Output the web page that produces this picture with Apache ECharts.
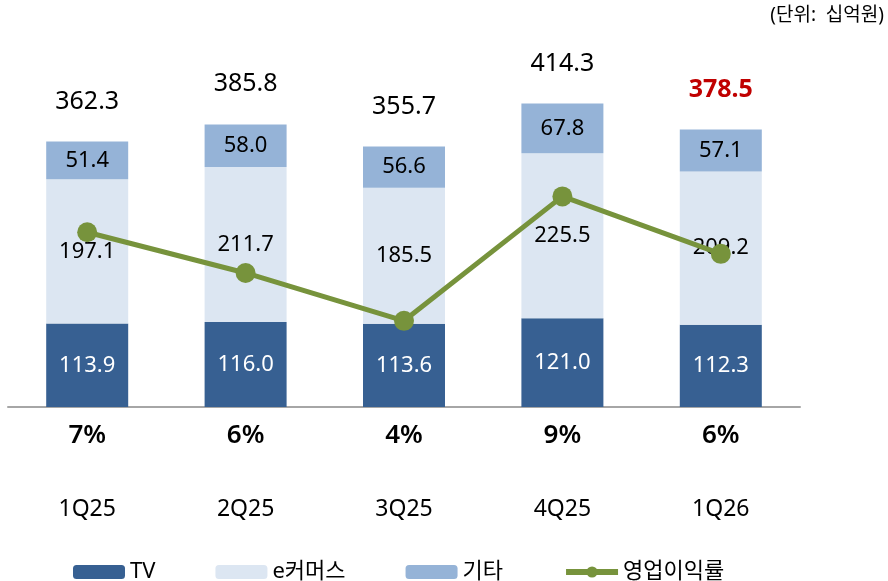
<!DOCTYPE html>
<html>
<head>
<meta charset="utf-8">
<script src="https://cdn.jsdelivr.net/npm/echarts@6/dist/echarts.min.js"></script>
<style>
  html, body { margin: 0; padding: 0; background: #fff; }
  #chart { width: 888px; height: 581px; }
</style>
</head>
<body>
<div id="chart"></div>
<script>
// 분기별 매출 구성 (단위: 십억원)
const categories = ['1Q25', '2Q25', '3Q25', '4Q25', '1Q26'];
const tvValues = [113.9, 116.0, 113.6, 121.0, 112.3];
const commerceValues = [197.1, 211.7, 185.5, 225.5, 209.2];
const etcValues = [51.4, 58.0, 56.6, 67.8, 57.1];
const totalValues = [362.3, 385.8, 355.7, 414.3, 378.5];
// 영업이익률 (%)
const marginValues = [7.3, 5.6, 3.6, 8.8, 6.4];
const marginLabels = ['7%', '6%', '4%', '9%', '6%'];

const FONT = "'Noto Sans', 'Noto Sans CJK KR', sans-serif";

const chart = echarts.init(document.getElementById('chart'));

// 바 안쪽 라벨
function innerLabel(color) {
  return {
    show: true,
    position: 'inside',
    color: color,
    fontSize: 22,
    fontFamily: FONT,
    formatter: (p) => p.value.toFixed(1)
  };
}

const option = {
  animation: false,
  textStyle: { fontFamily: FONT },
  graphic: [
    {
      type: 'text',
      right: 4,
      top: 6,
      style: {
        text: '(단위:  십억원)',
        fontSize: 19,
        fontFamily: FONT,
        fill: '#000'
      }
    }
  ],
  legend: {
    data: ['TV', 'e커머스', '기타', '영업이익률'],
    left: 68,
    top: 556,
    itemWidth: 52,
    itemHeight: 14,
    itemGap: 60,
    lineStyle: { width: 6 },
    textStyle: { fontSize: 22, color: '#000', fontFamily: FONT }
  },
  grid: {
    left: 8,
    right: 88,
    top: 48,
    bottom: 174
  },
  xAxis: [
    {
      type: 'category',
      data: categories,
      position: 'bottom',
      axisLine: { lineStyle: { color: '#A6A6A6', width: 2 } },
      axisTick: { show: false },
      axisLabel: { margin: 91, fontSize: 23, color: '#000', fontFamily: FONT }
    },
    {
      type: 'category',
      data: marginLabels,
      position: 'bottom',
      axisLine: { show: false },
      axisTick: { show: false },
      axisLabel: { margin: 16, fontSize: 26, fontWeight: 600, color: '#000', fontFamily: FONT }
    }
  ],
  yAxis: [
    { type: 'value', min: 0, max: 490, show: false },
    { type: 'value', min: 0, max: 15, show: false }
  ],
  series: [
    {
      name: 'TV',
      type: 'bar',
      stack: 'sales',
      barWidth: 82,
      itemStyle: { color: '#376092' },
      label: innerLabel('#fff'),
      data: tvValues
    },
    {
      name: 'e커머스',
      type: 'bar',
      stack: 'sales',
      barWidth: 82,
      itemStyle: { color: '#DCE6F2' },
      label: innerLabel('#000'),
      data: commerceValues
    },
    {
      name: '기타',
      type: 'bar',
      stack: 'sales',
      barWidth: 82,
      itemStyle: { color: '#95B3D7' },
      label: innerLabel('#000'),
      data: etcValues
    },
    {
      // 합계 라벨 (마지막 분기는 빨간색)
      name: '합계',
      type: 'scatter',
      symbolSize: 1,
      itemStyle: { color: 'rgba(0,0,0,0)', opacity: 1 },
      label: {
        show: true,
        position: 'top',
        distance: 27,
        fontSize: 25,
        color: '#000',
        fontFamily: FONT,
        formatter: (p) => p.value.toFixed(1)
      },
      data: totalValues.map((v, i) =>
        i === totalValues.length - 1
          ? { value: v, label: { color: '#C00000', fontWeight: 'bold' } }
          : v
      ),
      z: 5
    },
    {
      name: '영업이익률',
      type: 'line',
      yAxisIndex: 1,
      symbol: 'circle',
      symbolSize: 20,
      lineStyle: { color: '#77933C', width: 5 },
      itemStyle: { color: '#77933C' },
      data: marginValues,
      z: 3
    }
  ]
};

chart.setOption(option);
</script>
</body>
</html>
